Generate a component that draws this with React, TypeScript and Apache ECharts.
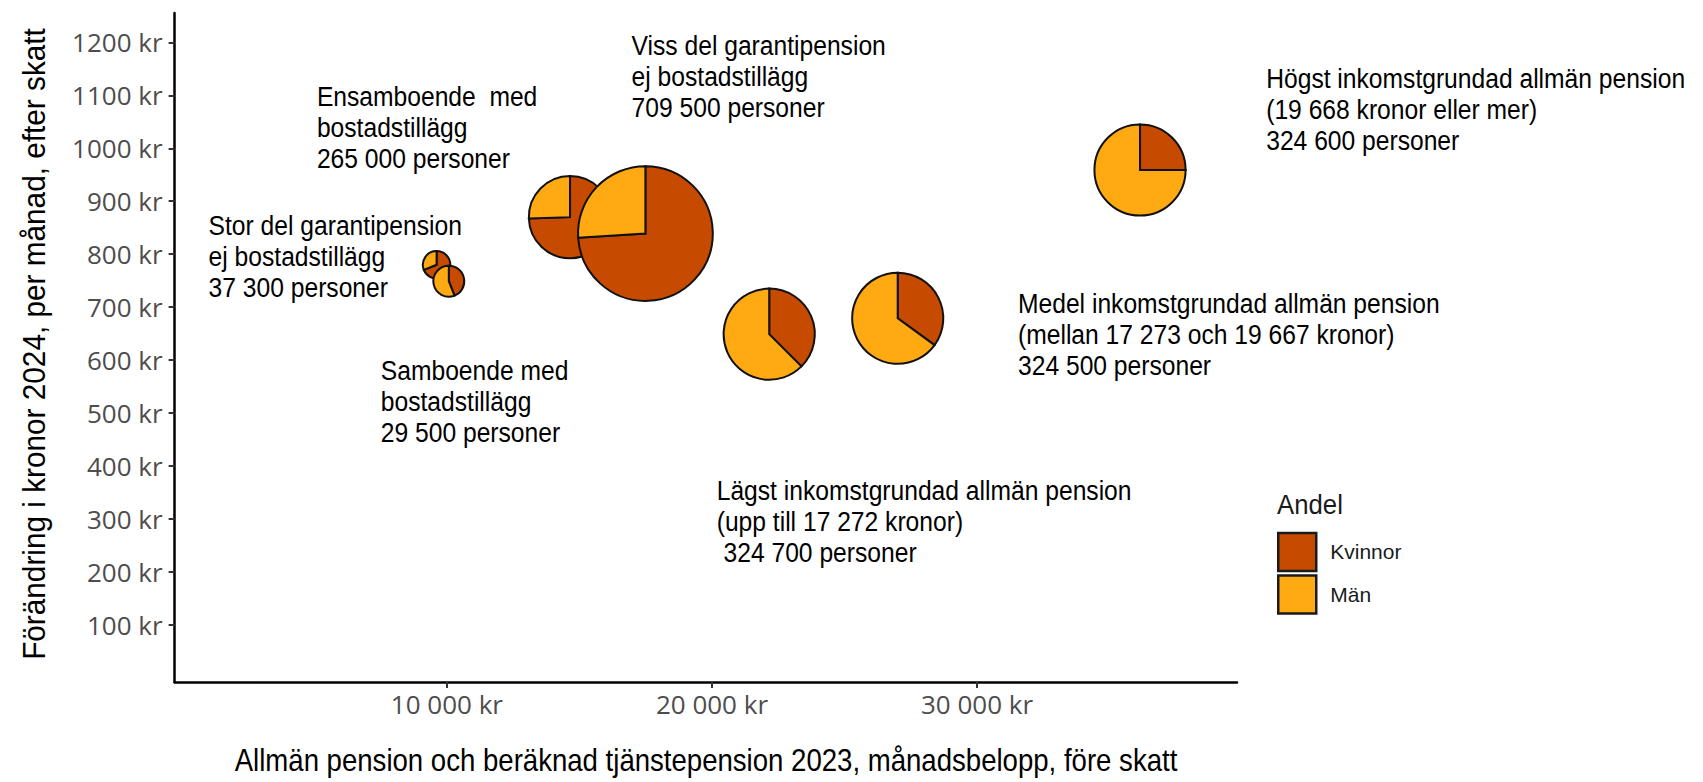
import { useEffect, useRef } from "react";
import * as echarts from "echarts";

// ---------- DATA ----------
const groupNames = [
  "Samboende med bostadstillägg",
  "Stor del garantipension ej bostadstillägg",
  "Ensamboende med bostadstillägg",
  "Viss del garantipension ej bostadstillägg",
  "Lägst inkomstgrundad allmän pension",
  "Medel inkomstgrundad allmän pension",
  "Högst inkomstgrundad allmän pension",
];
// Allmän pension och beräknad tjänstepension 2023 (kr/månad)
const pensionAmount = [9611, 10072, 14645, 17489, 22160, 27008, 36150];
// Förändring i kronor 2024, per månad, efter skatt
const changeAmount = [780, 749, 870, 839, 649, 679, 959];
// Antal personer
const personCount = [29500, 37300, 265000, 709500, 324700, 324500, 324600];
// Andel kvinnor (resten män)
const shareKvinnor = [0.69, 0.44, 0.745, 0.74, 0.375, 0.35, 0.25];

const annotationTexts = [
  "Samboende med\nbostadstillägg\n29 500 personer",
  "Stor del garantipension\nej bostadstillägg\n37 300 personer",
  "Ensamboende  med\nbostadstillägg\n265 000 personer",
  "Viss del garantipension\nej bostadstillägg\n709 500 personer",
  "Lägst inkomstgrundad allmän pension\n(upp till 17 272 kronor)\n 324 700 personer",
  "Medel inkomstgrundad allmän pension\n(mellan 17 273 och 19 667 kronor)\n324 500 personer",
  "Högst inkomstgrundad allmän pension\n(19 668 kronor eller mer)\n324 600 personer",
];

const xTickValues = [10000, 20000, 30000];
const xTickLabels = ["10 000 kr", "20 000 kr", "30 000 kr"];
const yTickValues = [100, 200, 300, 400, 500, 600, 700, 800, 900, 1000, 1100, 1200];
const yTickLabels = [
  "100 kr", "200 kr", "300 kr", "400 kr", "500 kr", "600 kr",
  "700 kr", "800 kr", "900 kr", "1000 kr", "1100 kr", "1200 kr",
];
const legendNames = ["Kvinnor", "Män"];
const legendTitle = "Andel";
const xTitle = "Allmän pension och beräknad tjänstepension 2023, månadsbelopp, före skatt";
const yTitle = "Förändring i kronor 2024, per månad, efter skatt";

// ---------- LAYOUT / STYLE ----------
const annotationLayout: [number, number][] = [
  [380.8, 370.7],
  [208.6, 225],
  [316.9, 96.7],
  [631.6, 45],
  [716.7, 490],
  [1018, 303.3],
  [1266.2, 78.3],
];
const COLOR_K = "#C64A00";
const COLOR_M = "#FFAA12";
const RADIUS_PER_SQRT = 0.08;
const TEXT_FONT = '"Liberation Sans", Arial, sans-serif';
const TICK_FONT = '"Open Sans", sans-serif';

export default function App() {
  const ref = useRef<HTMLDivElement>(null);

  useEffect(() => {
    document.body.style.margin = "0";
    if (!ref.current) return;

    const chart = echarts.init(ref.current, undefined, { renderer: "svg" });

    const rows = pensionAmount.map((x, i) => [x, changeAmount[i], personCount[i], shareKvinnor[i]]);

    const makeRender = (isK: boolean) => (params: any, api: any) => {
      const c = api.coord([api.value(0), api.value(1)]);
      const n = api.value(2) as number;
      const share = api.value(3) as number;
      const r = RADIUS_PER_SQRT * Math.sqrt(n);
      const start = -Math.PI / 2;
      const mid = start + 2 * Math.PI * share;
      return {
        type: "sector",
        shape: {
          cx: c[0],
          cy: c[1],
          r0: 0,
          r,
          startAngle: isK ? start : mid,
          endAngle: isK ? mid : start + 2 * Math.PI,
          clockwise: true,
        },
        style: { fill: isK ? COLOR_K : COLOR_M, stroke: "#111", lineWidth: 2 },
      };
    };

    const fmt = (values: number[], labels: string[]) => (v: number) => {
      const i = values.indexOf(v);
      return i >= 0 ? labels[i] : "";
    };

    const graphic: any[] = annotationTexts.map((t, i) => ({
      type: "text",
      x: annotationLayout[i][0],
      y: annotationLayout[i][1] - 15.5,
      scaleX: 0.88,
      silent: true,
      style: {
        text: t,
        fontFamily: TEXT_FONT,
        fontSize: 28,
        lineHeight: 31,
        fill: "#000",
        align: "left",
        verticalAlign: "top",
      },
    }));
    graphic.push({
      type: "text",
      x: 706,
      y: 760,
      scaleX: 0.862,
      silent: true,
      style: {
        text: xTitle,
        fontFamily: TEXT_FONT,
        fontSize: 32,
        fill: "#000",
        align: "center",
        verticalAlign: "middle",
      },
    });
    graphic.push({
      type: "text",
      x: 34,
      y: 344,
      rotation: Math.PI / 2,
      scaleX: 0.93,
      silent: true,
      style: {
        text: yTitle,
        fontFamily: TEXT_FONT,
        fontSize: 32,
        fill: "#000",
        align: "center",
        verticalAlign: "middle",
      },
    });
    graphic.push({
      type: "text",
      x: 1277,
      y: 504.5,
      scaleX: 0.92,
      silent: true,
      style: {
        text: legendTitle,
        fontFamily: TEXT_FONT,
        fontSize: 28,
        fill: "#1a1a1a",
        align: "left",
        verticalAlign: "middle",
      },
    });

    const option: any = {
      animation: false,
      backgroundColor: "#ffffff",
      grid: {
        left: 174.6,
        right: 466,
        top: 13,
        bottom: 100,
        containLabel: false,
        outerBoundsMode: "none",
      },
      xAxis: {
        type: "value",
        min: -273.5,
        max: 39809,
        axisLine: { show: true, onZero: false, lineStyle: { color: "#000", width: 2.5 } },
        axisTick: { show: true, length: 6, customValues: xTickValues, lineStyle: { color: "#333", width: 2 } },
        axisLabel: {
          show: true,
          customValues: xTickValues,
          formatter: fmt(xTickValues, xTickLabels),
          margin: 9,
          color: "#4d4d4d",
          fontSize: 26,
          fontFamily: TICK_FONT,
        },
        splitLine: { show: false },
      },
      yAxis: {
        type: "value",
        min: -7.7,
        max: 1255.4,
        axisLine: { show: true, onZero: false, lineStyle: { color: "#000", width: 2.5 } },
        axisTick: { show: true, length: 6, customValues: yTickValues, lineStyle: { color: "#333", width: 2 } },
        axisLabel: {
          show: true,
          customValues: yTickValues,
          formatter: fmt(yTickValues, yTickLabels),
          margin: 12,
          color: "#4d4d4d",
          fontSize: 26,
          fontFamily: TICK_FONT,
        },
        splitLine: { show: false },
      },
      legend: {
        orient: "vertical",
        left: 1277,
        top: 531.7,
        padding: 0,
        itemWidth: 38,
        itemHeight: 38,
        itemGap: 2,
        icon: "rect",
        selectedMode: false,
        data: [
          { name: legendNames[0], itemStyle: { color: COLOR_K, borderColor: "#1a1a1a", borderWidth: 2.5 } },
          { name: legendNames[1], itemStyle: { color: COLOR_M, borderColor: "#1a1a1a", borderWidth: 2.5 } },
        ],
        textStyle: { fontFamily: TEXT_FONT, fontSize: 21, color: "#1a1a1a", padding: [0, 0, 0, 9] },
      },
      series: [
        {
          type: "custom",
          name: legendNames[0],
          coordinateSystem: "cartesian2d",
          data: rows,
          encode: { x: 0, y: 1 },
          itemStyle: { color: COLOR_K },
          renderItem: makeRender(true),
          clip: false,
          silent: true,
        },
        {
          type: "custom",
          name: legendNames[1],
          coordinateSystem: "cartesian2d",
          data: rows,
          encode: { x: 0, y: 1 },
          itemStyle: { color: COLOR_M },
          renderItem: makeRender(false),
          clip: false,
          silent: true,
        },
      ],
      graphic,
    };

    chart.setOption(option);
    return () => {
      chart.dispose();
    };
  }, []);

  return <div ref={ref} style={{ width: 1703, height: 782 }} data-groups={groupNames.length} />;
}
